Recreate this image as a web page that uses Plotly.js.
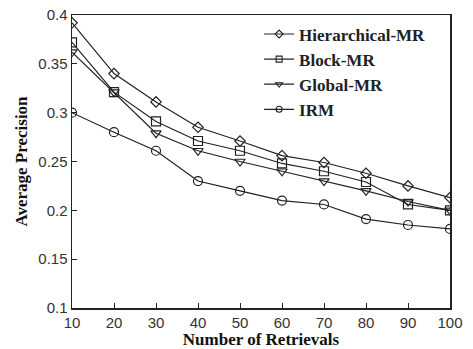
<!DOCTYPE html>
<html><head><meta charset="utf-8">
<script src="https://cdn.plot.ly/plotly-3.0.1.min.js"></script>
<style>body{margin:0;padding:0;background:#fff}#chart{width:473px;height:349px}</style>
</head><body><div id="chart"></div>
<script>
const retrievals = [10,20,30,40,50,60,70,80,90,100];
const hierarchicalMR = [0.392,0.340,0.311,0.285,0.271,0.256,0.249,0.238,0.225,0.213];
const blockMR = [0.372,0.321,0.291,0.271,0.261,0.248,0.240,0.229,0.206,0.200];
const globalMR = [0.362,0.321,0.279,0.261,0.250,0.240,0.230,0.220,0.209,0.200];
const irm = [0.300,0.280,0.261,0.230,0.220,0.210,0.206,0.191,0.185,0.181];
const seriesNames = ['Hierarchical-MR','Block-MR','Global-MR','IRM'];
const xTicks = [10,20,30,40,50,60,70,80,90,100];
const yTicks = [0.1,0.15,0.2,0.25,0.3,0.35,0.4];

const symbols = ['diamond-open','square-open','triangle-down-open','circle-open'];
const sizes = [8,9,9,9];
const serif = 'Liberation Serif, Times New Roman, serif';
const sans = 'Liberation Sans, Arial, sans-serif';
const seriesY = [hierarchicalMR, blockMR, globalMR, irm];
const data = seriesY.map((y,i)=>({
  x: retrievals, y: y, name: seriesNames[i], type:'scatter', mode:'lines+markers',
  showlegend:false,
  line:{color:'#222', width:1.2},
  marker:{symbol:symbols[i], size:sizes[i], color:'#222', line:{width:1.2, color:'#222'}}
}));
// legend entries with smaller markers, as in the reference legend
seriesNames.forEach((n,i)=>data.push({
  x:[null], y:[null], name:n, type:'scatter', mode:'lines+markers', showlegend:true,
  line:{color:'#222', width:1.2},
  marker:{symbol:symbols[i], size:6, color:'#222', line:{width:1.1, color:'#222'}}
}));
const layout = {
  width:473, height:349,
  margin:{l:72, r:23, t:15, b:41},
  paper_bgcolor:'#fff', plot_bgcolor:'#fff',
  showlegend:true,
  legend:{x:0.495, y:0.995, xanchor:'left', yanchor:'top', bgcolor:'rgba(0,0,0,0)',
    font:{family:serif, size:17, color:'#222', weight:'bold'},
    tracegroupgap:0, itemwidth:30},
  xaxis:{range:[10,100], tickvals:xTicks, ticktext:xTicks.map(String),
    ticks:'inside', ticklen:5, tickcolor:'#222', showline:true, mirror:true, linecolor:'#222', linewidth:1.5,
    showgrid:false, zeroline:false,
    tickfont:{family:sans, size:15, color:'#333'},
    title:{text:'Number of Retrievals', standoff:5, font:{family:serif, size:17, color:'#111', weight:'bold'}}},
  yaxis:{range:[0.1,0.4], tickvals:yTicks, ticktext:['0.1','0.15','0.2','0.25','0.3','0.35','0.4'],
    ticks:'inside', ticklen:5, tickcolor:'#222', showline:true, mirror:true, linecolor:'#222', linewidth:1.5,
    showgrid:false, zeroline:false,
    tickfont:{family:sans, size:15, color:'#333'},
    title:{text:'Average Precision', standoff:6, font:{family:serif, size:17, color:'#111', weight:'bold'}}}
};
Plotly.newPlot('chart', data, layout, {displayModeBar:false, staticPlot:true});
</script></body></html>
